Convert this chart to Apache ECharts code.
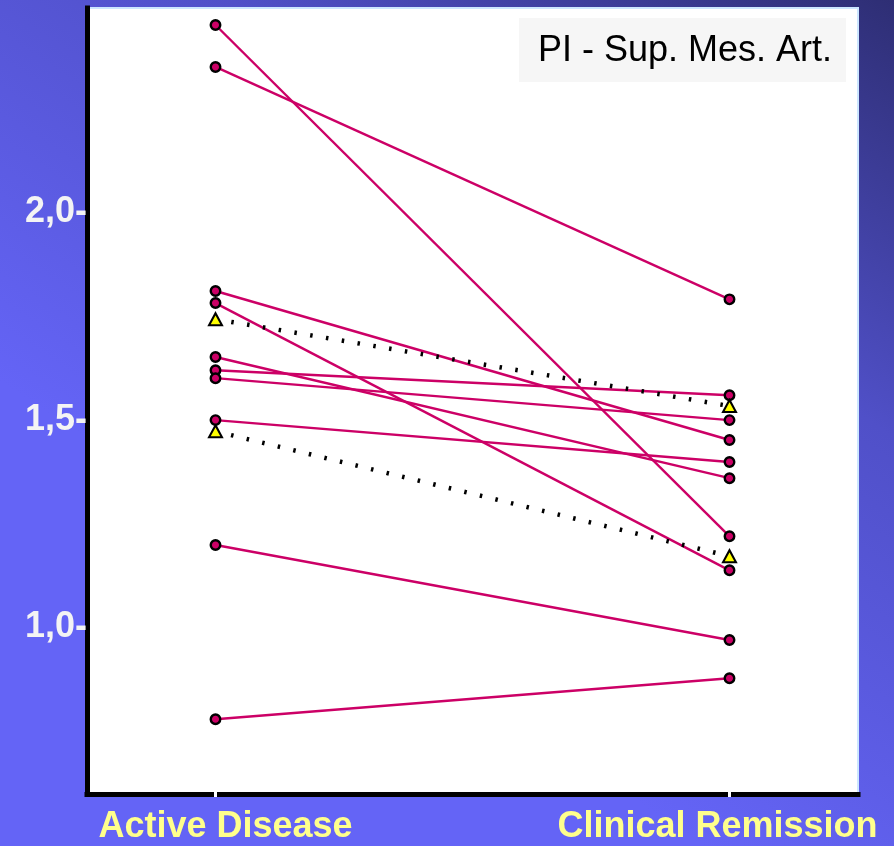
<!DOCTYPE html>
<html>
<head>
<meta charset="utf-8">
<title>PI - Sup. Mes. Art.</title>
<script src="https://cdn.jsdelivr.net/npm/echarts@6/dist/echarts.min.js"></script>
<style>
  html, body { margin: 0; padding: 0; }
  #chart { width: 894px; height: 846px; }
</style>
</head>
<body>
<div id="chart"></div>
<script>
// Phases compared for each patient
const categories = ['Active Disease', 'Clinical Remission'];

// Pulsatility index per patient (same index in both arrays = same patient)
const activeValues    = [2.451, 2.350, 1.810, 1.781, 1.651, 1.619, 1.600, 1.499, 1.198, 0.778];
const remissionValues = [1.219, 1.790, 1.451, 1.137, 1.359, 1.559, 1.499, 1.398, 0.969, 0.877];

// Group summary values (triangles joined by dotted lines)
const groupActive    = [1.742, 1.472];
const groupRemission = [1.533, 1.171];

// Y tick values
const yTicks = [1.0, 1.5, 2.0];

const FONT = '"Liberation Sans", Arial, Helvetica, sans-serif';

const patientSeries = activeValues.map((a, i) => ({
  type: 'line',
  data: [[0, a], [1, remissionValues[i]]],
  symbol: 'circle',
  symbolSize: 9.5,
  lineStyle: { color: '#cc0066', width: 2.4 },
  itemStyle: { color: '#cc0066', borderColor: '#000', borderWidth: 2.4 },
  emphasis: { disabled: true },
  z: 3
}));

const groupSeries = groupActive.map((a, i) => ({
  type: 'line',
  data: [[0, a], [1, groupRemission[i]]],
  symbol: 'triangle',
  symbolSize: [13, 12],
  lineStyle: { color: '#000', width: 4.5, type: [2.5, 13.5], cap: 'butt' },
  itemStyle: { color: '#ffff00', borderColor: '#000', borderWidth: 2 },
  emphasis: { disabled: true },
  z: 4
}));

const chart = echarts.init(document.getElementById('chart'), null, { renderer: 'canvas' });

chart.setOption({
  animation: false,
  backgroundColor: {
    type: 'linear', x: 1, y: 0, x2: 0.5, y2: 0.8,
    colorStops: [
      { offset: 0, color: '#2e2e74' },
      { offset: 0.45, color: '#5050c8' },
      { offset: 1, color: '#6464f6' }
    ]
  },
  grid: {
    left: 87, right: 36, top: 8, bottom: 52,
    show: true,
    backgroundColor: '#ffffff',
    borderColor: '#cce6ff',
    borderWidth: 2
  },
  xAxis: [
    {
      type: 'value',
      min: -0.25,
      max: 1.25,
      splitLine: { show: false },
      axisLine: { show: true, onZero: false, lineStyle: { color: '#000', width: 5, cap: 'square' } },
      axisTick: { show: true, customValues: [0, 1], inside: false, length: 3, lineStyle: { color: '#fff', width: 3 } },
      axisLabel: {
        customValues: [0, 1],
        margin: 15,
        formatter: v => (Math.round(v) === 0 ? '{a|' : '{b|') + categories[Math.round(v)] + '}',
        rich: {
          a: { fontFamily: FONT, fontSize: 36, fontWeight: 'bold', color: '#ffff8c', padding: [0, 0, 0, 20] },
          b: { fontFamily: FONT, fontSize: 36, fontWeight: 'bold', color: '#ffff8c', padding: [0, 24, 0, 0] }
        }
      }
    },
    {
      type: 'value',
      min: -0.25,
      max: 1.25,
      position: 'bottom',
      offset: 0,
      splitLine: { show: false },
      axisLine: { show: false },
      axisLabel: { show: false },
      axisTick: { show: true, customValues: [0, 1], inside: true, length: 3, lineStyle: { color: '#fff', width: 3 } }
    }
  ],
  yAxis: {
    type: 'value',
    min: 0.598,
    max: 2.492,
    splitLine: { show: false },
    axisLine: { show: true, onZero: false, lineStyle: { color: '#000', width: 5, cap: 'square' } },
    axisTick: { show: false },
    axisLabel: {
      customValues: yTicks,
      margin: 0,
      formatter: v => v.toFixed(1).replace('.', ',') + '-',
      fontFamily: FONT,
      fontSize: 36,
      fontWeight: 'bold',
      color: '#f4f4f4'
    }
  },
  graphic: [
    {
      type: 'group',
      left: 519,
      top: 18,
      children: [
        { type: 'rect', shape: { x: 0, y: 0, width: 327, height: 64 }, style: { fill: '#f6f6f6' } },
        {
          type: 'text',
          x: 166, y: 33,
          style: {
            text: 'PI - Sup. Mes. Art.',
            font: '36px ' + FONT,
            fill: '#000',
            align: 'center',
            verticalAlign: 'middle'
          }
        }
      ]
    }
  ],
  series: patientSeries.concat(groupSeries)
});
</script>
</body>
</html>
